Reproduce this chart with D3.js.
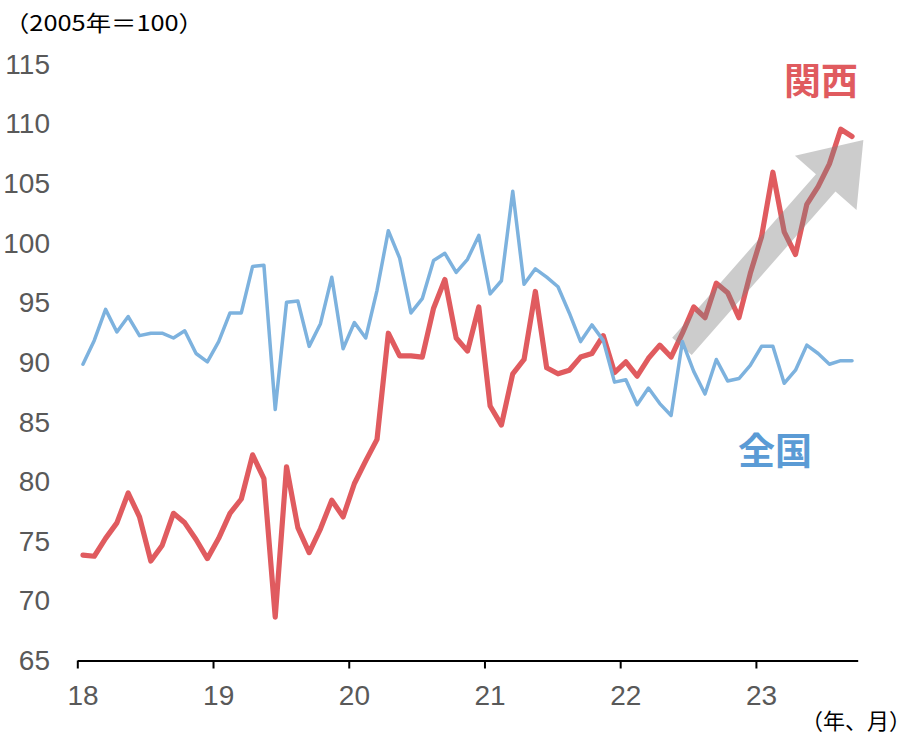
<!DOCTYPE html>
<html>
<head>
<meta charset="utf-8">
<script src="https://cdn.jsdelivr.net/npm/d3@7"></script>
<style>
  html, body { margin: 0; padding: 0; background: #ffffff; }
  svg { display: block; }
</style>
</head>
<body>
<svg id="chart" width="911" height="735"></svg>
<script>
// ---- data (monthly, Jan 2018 – Sep 2023) ----
const years = ["18", "19", "20", "21", "22", "23"];
const yTicks = [65, 70, 75, 80, 85, 90, 95, 100, 105, 110, 115];
const kansai = [
  73.8, 73.7, 75.2, 76.5, 79.0, 77.0, 73.3, 74.6, 77.3, 76.5, 75.1, 73.5,
  75.2, 77.3, 78.5, 82.2, 80.2, 68.6, 81.2, 76.1, 74.0, 76.0, 78.4, 77.0,
  79.8, 81.7, 83.5, 92.4, 90.5, 90.5, 90.4, 94.5, 96.9, 92.0, 90.9, 94.6,
  86.3, 84.7, 89.0, 90.2, 95.9, 89.5, 89.0, 89.3, 90.4, 90.7, 92.2, 89.1,
  90.0, 88.8, 90.3, 91.4, 90.4, 92.4, 94.6, 93.7, 96.6, 95.8, 93.7, 97.4,
  100.5, 105.9, 100.9, 99.0, 103.2, 104.7, 106.6, 109.5, 108.9
];
const zenkoku = [
  89.8, 91.8, 94.4, 92.5, 93.8, 92.2, 92.4, 92.4, 92.0, 92.6, 90.7, 90.0,
  91.7, 94.1, 94.1, 98.0, 98.1, 86.0, 95.0, 95.1, 91.3, 93.2, 97.1, 91.1,
  93.3, 92.0, 96.0, 101.0, 98.7, 94.1, 95.3, 98.5, 99.1, 97.5, 98.6, 100.6,
  95.7, 96.8, 104.3, 96.5, 97.8, 97.1, 96.3, 94.1, 91.7, 93.1, 91.8, 88.3,
  88.5, 86.4, 87.8, 86.5, 85.5, 91.7, 89.2, 87.3, 90.2, 88.4, 88.6, 89.7,
  91.3, 91.3, 88.2, 89.3, 91.4, 90.7, 89.8, 90.1, 90.1
];
const seriesNames = ["関西", "全国"];
// trend arrow: [month index, value] tail and tip
const arrowFrom = [52.96, 91.3];
const arrowTo = [69.0, 108.6];

// ---- layout ----
const svg = d3.select("#chart");
const nMonths = kansai.length;
const x = d3.scaleLinear().domain([0, nMonths]).range([77.3, 857.7]);
const y = d3.scaleLinear().domain([65, 115]).range([660, 63.7]);
const px = i => x(i + 0.5);

const red = "#e05b5f";
const blue = "#7db2de";

// y tick labels (no axis line)
svg.append("g").selectAll("text").data(yTicks).join("text")
  .attr("x", 50).attr("y", d => y(d)).attr("dy", "0.36em")
  .attr("text-anchor", "end")
  .attr("font-family", "'Liberation Sans', Arial, sans-serif")
  .attr("font-size", 28).attr("fill", "#595959")
  .text(d => d);

// x axis
const xAxis = d3.axisBottom(x)
  .tickValues(d3.range(0, years.length).map(k => k * 12))
  .tickSize(8).tickSizeOuter(0).tickFormat("");
const gx = svg.append("g").attr("transform", "translate(0,660.5)").call(xAxis);
gx.select(".domain").attr("stroke", "#000").attr("stroke-width", 2);
gx.selectAll(".tick line").attr("stroke", "#000").attr("stroke-width", 2);

svg.append("g").selectAll("text").data(years).join("text")
  .attr("x", (d, k) => px(k * 12)).attr("y", 705)
  .attr("text-anchor", "middle")
  .attr("font-family", "'Liberation Sans', Arial, sans-serif")
  .attr("font-size", 28).attr("fill", "#595959")
  .text(d => d);

// lines
const line = d3.line().x((d, i) => px(i)).y(d => y(d));
svg.append("path").datum(kansai)
  .attr("d", line).attr("fill", "none")
  .attr("stroke", red).attr("stroke-width", 5.2)
  .attr("stroke-linejoin", "round").attr("stroke-linecap", "round");

// arrow (semi-transparent, over the kansai line)
(function () {
  const x0 = px(arrowFrom[0]), y0 = y(arrowFrom[1]);
  const x1 = px(arrowTo[0]), y1 = y(arrowTo[1]);
  const dx = x1 - x0, dy = y1 - y0, L = Math.hypot(dx, dy);
  const ux = dx / L, uy = dy / L, nx = -uy, ny = ux;
  const shaftW = 13, headW = 41, headL = 57;
  const bx = x1 - ux * headL, by = y1 - uy * headL;
  const pts = [
    [x0 + nx * shaftW, y0 + ny * shaftW],
    [bx + nx * shaftW, by + ny * shaftW],
    [bx + nx * headW, by + ny * headW],
    [x1, y1],
    [bx - nx * headW, by - ny * headW],
    [bx - nx * shaftW, by - ny * shaftW],
    [x0 - nx * shaftW, y0 - ny * shaftW]
  ];
  svg.append("path")
    .attr("d", d3.line()(pts) + "Z")
    .attr("fill", "#808080").attr("fill-opacity", 0.4);
})();

svg.append("path").datum(zenkoku)
  .attr("d", line).attr("fill", "none")
  .attr("stroke", blue).attr("stroke-width", 3.5)
  .attr("stroke-linejoin", "round").attr("stroke-linecap", "round");

// series labels
svg.append("text").attr("x", 821).attr("y", 95)
  .attr("text-anchor", "middle")
  .attr("font-family", "'Noto Sans CJK JP', sans-serif")
  .attr("font-weight", "bold").attr("font-size", 37).attr("fill", "#e05b5f")
  .text(seriesNames[0]);
svg.append("text").attr("x", 775).attr("y", 465)
  .attr("text-anchor", "middle")
  .attr("font-family", "'Noto Sans CJK JP', sans-serif")
  .attr("font-weight", "bold").attr("font-size", 37).attr("fill", "#5b9bd5")
  .text(seriesNames[1]);

// unit labels
svg.append("text").attr("x", 4).attr("y", 31)
  .attr("font-family", "'Noto Sans CJK JP', sans-serif")
  .attr("font-size", 22).attr("fill", "#000")
  .attr("textLength", 200).attr("lengthAdjust", "spacingAndGlyphs")
  .text("（2005年＝100）");
svg.append("text").attr("x", 911).attr("y", 729)
  .attr("text-anchor", "end")
  .attr("font-family", "'Noto Sans CJK JP', sans-serif")
  .attr("font-size", 22).attr("fill", "#000")
  .text("（年、月）");
</script>
</body>
</html>
